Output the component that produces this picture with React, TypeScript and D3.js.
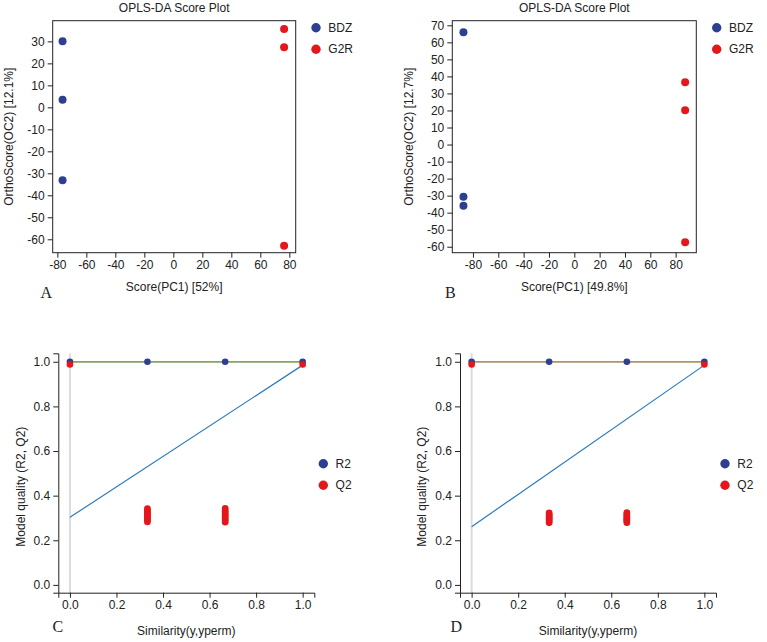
import { axisBottom, axisLeft, format, scaleLinear, select } from "d3";
import { useEffect, useRef } from "react";

const FONT = "'Liberation Sans', Arial, Helvetica, sans-serif";
const SERIF = "'Liberation Serif', 'Times New Roman', serif";
const BLUE = "#2d3f8f";
const RED = "#e3171c";
const INK = "#222";

// OPLS-DA scores, panel A
const bdzScoreA = [-76.4, -76.4, -76.4];
const bdzOrthoA = [30.0, 3.5, -33.2];
const g2rScoreA = [76.4, 76.4, 76.4];
const g2rOrthoA = [35.6, 27.3, -62.9];

// OPLS-DA scores, panel B
const bdzScoreB = [-87.5, -87.5, -87.5];
const bdzOrthoB = [65.9, -30.6, -35.9];
const g2rScoreB = [87.5, 87.5, 87.5];
const g2rOrthoB = [36.5, 20.1, -57.3];

const scoreTicks = [-80, -60, -40, -20, 0, 20, 40, 60, 80];
const orthoTicksA = [-60, -50, -40, -30, -20, -10, 0, 10, 20, 30];
const orthoTicksB = [-60, -50, -40, -30, -20, -10, 0, 10, 20, 30, 40, 50, 60, 70];

// permutation tests (C, D)
const similarity = [0, 0.333, 0.667, 1];
const r2C = [1, 1, 1, 1];
const r2D = [1, 1, 1, 1];
const q2EndsC = [0.988, 0.988];
const q2EndsD = [0.988, 0.988];
const q2PermC1 = [0.282, 0.288, 0.294, 0.3, 0.306, 0.312, 0.318, 0.324, 0.33, 0.336, 0.342];
const q2PermC2 = [0.281, 0.287, 0.293, 0.299, 0.305, 0.311, 0.317, 0.323, 0.329, 0.335, 0.343];
const q2PermD1 = [0.278, 0.283, 0.288, 0.293, 0.298, 0.303, 0.308, 0.313, 0.318, 0.323];
const q2PermD2 = [0.279, 0.284, 0.289, 0.294, 0.299, 0.304, 0.309, 0.314, 0.319, 0.324];
const q2LineC = [0.303, 0.985];
const q2LineD = [0.261, 0.985];
const permTicks = [0, 0.2, 0.4, 0.6, 0.8, 1];

function Axis({ kind, scale, ticks, transform, fmt, domain }) {
  const ref = useRef(null);

  useEffect(() => {
    if (!ref.current) return;
    const ax = (kind === "left" ? axisLeft(scale) : axisBottom(scale))
      .tickValues(ticks)
      .tickSize(5)
      .tickSizeOuter(domain ? 5 : 0)
      .tickPadding(3)
      .tickFormat(fmt);
    const g = select(ref.current);
    g.call(ax);
    g.attr("font-size", 12).attr("font-family", FONT);
    g.selectAll("line").attr("stroke", INK);
    g.selectAll("text").attr("fill", INK);
    g.select(".domain").attr("stroke", INK).attr("display", domain ? null : "none");
  }, [kind, scale, ticks, fmt, domain]);

  return <g ref={ref} transform={transform} />;
}

function Legend({ x, y, items }) {
  return (
    <g>
      {items.map((it, i) => (
        <g key={it.label} transform={`translate(${x}, ${y + i * 21.5})`}>
          <circle r={4.7} fill={it.color} />
          <text x={12.3} dy="0.35em" fontSize={12} fontFamily={FONT} fill={INK}>
            {it.label}
          </text>
        </g>
      ))}
    </g>
  );
}

function ScorePlot({ box, xDomain, yDomain, yTicks, bdz, g2r, xLabel, yLabel, letter, legendX }) {
  const x = scaleLinear().domain(xDomain).range([box.x0, box.x1]);
  const y = scaleLinear().domain(yDomain).range([box.y1, box.y0]);
  const cx = (box.x0 + box.x1) / 2;
  const fmt = (d) => String(d);
  return (
    <g>
      <text x={cx} y={11.5} textAnchor="middle" fontSize={12} fontFamily={FONT} fill={INK}>
        OPLS-DA Score Plot
      </text>
      <rect x={box.x0} y={box.y0} width={box.x1 - box.x0} height={box.y1 - box.y0} fill="none" stroke={INK} />
      <Axis kind="bottom" scale={x} ticks={scoreTicks} fmt={fmt} transform={`translate(0, ${box.y1})`} />
      <Axis kind="left" scale={y} ticks={yTicks} fmt={fmt} transform={`translate(${box.x0}, 0)`} />
      {bdz[0].map((v, i) => (
        <circle key={`b${i}`} cx={x(v)} cy={y(bdz[1][i])} r={4} fill={BLUE} />
      ))}
      {g2r[0].map((v, i) => (
        <circle key={`g${i}`} cx={x(v)} cy={y(g2r[1][i])} r={4} fill={RED} />
      ))}
      <text x={cx} y={291} textAnchor="middle" fontSize={12} fontFamily={FONT} fill={INK}>
        {xLabel}
      </text>
      <text
        transform={`translate(${box.x0 - 39.5}, ${(box.y0 + box.y1) / 2}) rotate(-90)`}
        textAnchor="middle"
        fontSize={12}
        fontFamily={FONT}
        fill={INK}
      >
        {yLabel}
      </text>
      <text x={letter.x} y={297.5} fontSize={16} fontFamily={SERIF} fill={INK}>
        {letter.text}
      </text>
      <Legend
        x={legendX}
        y={27.7}
        items={[
          { label: "BDZ", color: BLUE },
          { label: "G2R", color: RED },
        ]}
      />
    </g>
  );
}

function PermPlot({ ox, r2, q2Ends, q2Perm1, q2Perm2, q2Line, letter, redOnTop }) {
  const x = scaleLinear().domain([-0.05, 1.05]).range([ox, ox + 256]);
  const y = scaleLinear().domain([-0.035, 1.038]).range([592.7, 353.3]);
  const fmt = format(".1f");
  const r2Line = (
    <line x1={x(0)} x2={x(1)} y1={y(1)} y2={y(1)} stroke="#5aa64f" strokeWidth={1.3} />
  );
  const q2Top = (
    <line x1={x(0)} x2={x(1)} y1={y(1)} y2={y(1)} stroke="#e2705f" strokeWidth={1.3} opacity={0.75} />
  );
  const q2Pts = [
    ...q2Ends.map((v, i) => [i === 0 ? similarity[0] : similarity[3], v]),
    ...q2Perm1.map((v) => [similarity[1], v]),
    ...q2Perm2.map((v) => [similarity[2], v]),
  ];
  return (
    <g>
      <line x1={x(0)} x2={x(0)} y1={353.3} y2={592.7} stroke="#dcdcdc" strokeWidth={2} />
      <Axis kind="bottom" scale={x} ticks={permTicks} fmt={fmt} domain transform={`translate(0, 592.7)`} />
      <Axis kind="left" scale={y} ticks={permTicks} fmt={fmt} domain transform={`translate(${ox}, 0)`} />
      {redOnTop ? r2Line : q2Top}
      {redOnTop ? q2Top : r2Line}
      <line x1={x(0)} x2={x(1)} y1={y(q2Line[0])} y2={y(q2Line[1])} stroke="#2a7bbd" strokeWidth={1.2} />
      {similarity.map((s, i) => (
        <circle key={`r${i}`} cx={x(s)} cy={y(r2[i])} r={3.3} fill={BLUE} />
      ))}
      {q2Pts.map(([s, v], i) => (
        <circle key={`q${i}`} cx={x(s)} cy={y(v)} r={3.3} fill={RED} />
      ))}
      <text x={x(0.5)} y={635} textAnchor="middle" fontSize={12} fontFamily={FONT} fill={INK}>
        Similarity(y,yperm)
      </text>
      <text
        transform={`translate(${ox - 33.8}, 486.7) rotate(-90)`}
        textAnchor="middle"
        fontSize={12}
        fontFamily={FONT}
        fill={INK}
      >
        Model quality (R2, Q2)
      </text>
      <text x={letter.x} y={631.5} fontSize={16} fontFamily={SERIF} fill={INK}>
        {letter.text}
      </text>
      <Legend
        x={ox + 265}
        y={463.7}
        items={[
          { label: "R2", color: BLUE },
          { label: "Q2", color: RED },
        ]}
      />
    </g>
  );
}

export default function App() {
  return (
    <svg
      width={767}
      height={642}
      style={{ position: "absolute", left: 0, top: 0, background: "#fff" }}
    >
      <ScorePlot
        box={{ x0: 52.7, x1: 295.7, y0: 20.7, y1: 252.7 }}
        xDomain={[-83.2, 84.4]}
        yDomain={[-66.1, 39.4]}
        yTicks={orthoTicksA}
        bdz={[bdzScoreA, bdzOrthoA]}
        g2r={[g2rScoreA, g2rOrthoA]}
        xLabel="Score(PC1) [52%]"
        yLabel="OrthoScore(OC2) [12.1%]"
        letter={{ x: 40.5, text: "A" }}
        legendX={316}
      />
      <ScorePlot
        box={{ x0: 452.3, x1: 696.3, y0: 20.7, y1: 252.7 }}
        xDomain={[-96.3, 96.3]}
        yDomain={[-63.5, 72.7]}
        yTicks={orthoTicksB}
        bdz={[bdzScoreB, bdzOrthoB]}
        g2r={[g2rScoreB, g2rOrthoB]}
        xLabel="Score(PC1) [49.8%]"
        yLabel="OrthoScore(OC2) [12.7%]"
        letter={{ x: 445, text: "B" }}
        legendX={716.7}
      />
      <PermPlot
        ox={58.3}
        r2={r2C}
        q2Ends={q2EndsC}
        q2Perm1={q2PermC1}
        q2Perm2={q2PermC2}
        q2Line={q2LineC}
        letter={{ x: 52.5, text: "C" }}
        redOnTop={false}
      />
      <PermPlot
        ox={460}
        r2={r2D}
        q2Ends={q2EndsD}
        q2Perm1={q2PermD1}
        q2Perm2={q2PermD2}
        q2Line={q2LineD}
        letter={{ x: 450.5, text: "D" }}
        redOnTop
      />
    </svg>
  );
}
